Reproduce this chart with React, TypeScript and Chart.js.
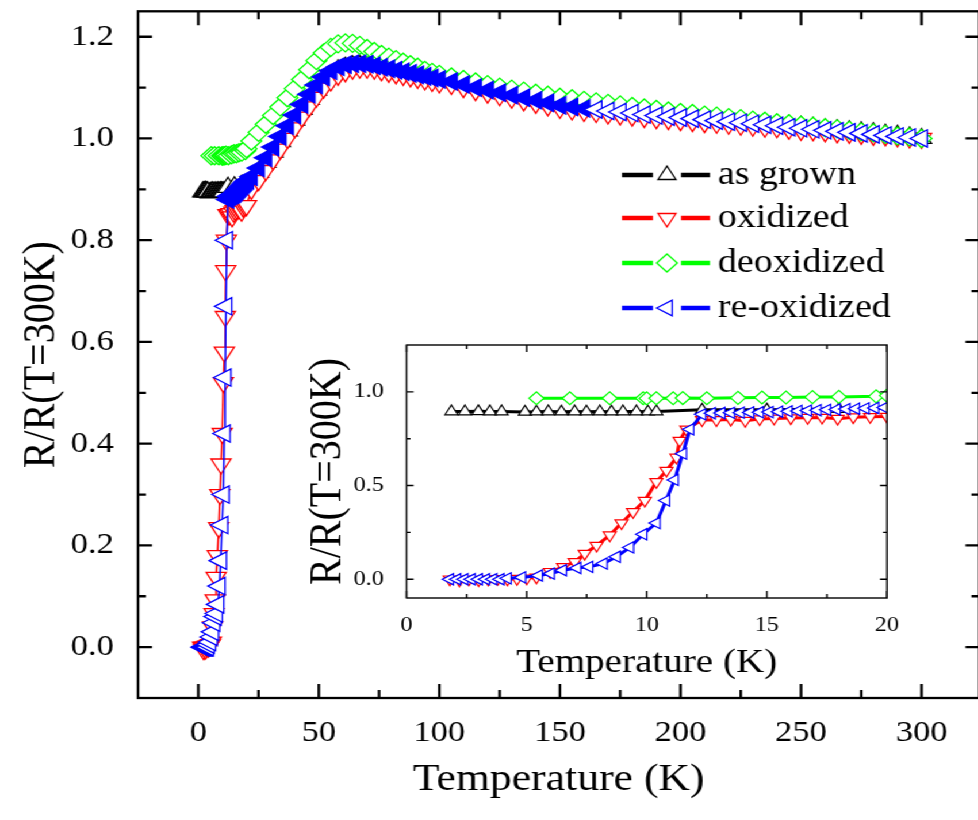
import React, { useEffect, useRef } from "react";
import { Chart, registerables } from "chart.js";
import { drawPoint } from "chart.js/helpers";

Chart.register(...registerables);

// ---------------- data ----------------
const seriesLabels = ["as grown", "oxidized", "deoxidized", "re-oxidized"];
const seriesColors = ["#000000", "#ff0000", "#00ff00", "#0000ff"];

// shared temperature grid of the main curve (K)
const gridT = [
  22, 25, 28, 31, 34, 37, 40, 43, 46, 49, 52, 55, 58, 61, 64, 67, 70, 73, 76, 79, 82, 85, 88, 91, 94, 97, 100,
  105, 110, 115, 120, 125, 130, 135, 140, 145, 150, 155, 160, 165, 170, 175, 180, 185, 190, 195, 200,
  205, 210, 215, 220, 225, 230, 235, 240, 245, 250, 255, 260, 265, 270, 275, 280, 285, 290, 295, 300,
];

// as grown
const asGrownLowT = [1.87, 2.43, 2.99, 3.47, 3.96, 4.93, 5.41, 5.9, 6.45, 7.0, 7.49, 8.05, 8.53, 9.01, 9.57, 10.05, 10.4, 12.3, 15.0, 18.0];
const asGrownLowR = [0.895, 0.895, 0.896, 0.895, 0.895, 0.893, 0.894, 0.895, 0.894, 0.895, 0.894, 0.895, 0.894, 0.895, 0.895, 0.894, 0.895, 0.904, 0.905, 0.908];
const asGrownMainR = [
  0.918, 0.934, 0.953, 0.973, 0.994, 1.015, 1.036, 1.057, 1.077, 1.095, 1.112, 1.125, 1.135, 1.14, 1.143, 1.144, 1.144, 1.142, 1.14, 1.138, 1.135, 1.132, 1.129, 1.126, 1.123, 1.12, 1.117,
  1.112, 1.107, 1.102, 1.097, 1.093, 1.089, 1.085, 1.081, 1.077, 1.073, 1.07, 1.067, 1.064, 1.061, 1.058, 1.056, 1.053, 1.05, 1.048, 1.046,
  1.043, 1.041, 1.039, 1.037, 1.034, 1.032, 1.03, 1.028, 1.026, 1.024, 1.022, 1.019, 1.017, 1.015, 1.013, 1.011, 1.008, 1.006, 1.003, 1.0,
];

// oxidized
const oxidizedLowT = [1.8, 2.2, 2.6, 3.0, 3.4, 3.8, 4.2, 4.6, 5.0, 5.41, 5.97, 6.52, 7.0, 7.42, 7.91, 8.46, 8.95, 9.43, 9.92, 10.4, 10.82, 11.24, 11.37, 11.65, 12.3, 12.9, 13.5, 14.1, 14.7, 15.3, 16.0, 16.7, 17.3, 17.95, 18.6, 19.3, 20.0];
const oxidizedLowR = [0.0, -0.005, 0.0, -0.004, 0.0, 0.002, 0.0, 0.003, 0.005, 0.01, 0.04, 0.066, 0.093, 0.137, 0.18, 0.235, 0.3, 0.36, 0.42, 0.52, 0.58, 0.65, 0.74, 0.8, 0.85, 0.85, 0.852, 0.846, 0.855, 0.858, 0.86, 0.862, 0.863, 0.857, 0.865, 0.867, 0.868];
const oxidizedMainR = [
  0.9, 0.917, 0.937, 0.958, 0.979, 1.0, 1.021, 1.042, 1.062, 1.081, 1.099, 1.113, 1.124, 1.131, 1.136, 1.138, 1.138, 1.136, 1.133, 1.13, 1.127, 1.124, 1.121, 1.118, 1.115, 1.112, 1.109,
  1.106, 1.1, 1.094, 1.089, 1.084, 1.079, 1.074, 1.069, 1.064, 1.059, 1.056, 1.053, 1.051, 1.048, 1.046, 1.044, 1.041, 1.039, 1.037, 1.035,
  1.033, 1.031, 1.03, 1.028, 1.026, 1.024, 1.022, 1.021, 1.018, 1.016, 1.015, 1.013, 1.011, 1.01, 1.008, 1.006, 1.005, 1.003, 1.001, 1.0,
];

// deoxidized
const deoxidizedLowT = [5.41, 6.8, 8.46, 9.85, 10.0, 10.4, 11.1, 11.5, 12.5, 13.8, 14.8, 15.8, 16.9, 18.0, 19.55, 20.0];
const deoxidizedLowR = [0.966, 0.966, 0.966, 0.966, 0.965, 0.966, 0.966, 0.967, 0.966, 0.968, 0.97, 0.97, 0.972, 0.973, 0.976, 0.98];
const deoxidizedMainR = [
  0.995, 1.012, 1.028, 1.045, 1.062, 1.08, 1.098, 1.116, 1.135, 1.153, 1.168, 1.179, 1.186, 1.188, 1.187, 1.183, 1.177, 1.171, 1.165, 1.16, 1.155, 1.15, 1.145, 1.14, 1.134, 1.13, 1.126,
  1.121, 1.116, 1.111, 1.106, 1.101, 1.097, 1.093, 1.089, 1.085, 1.081, 1.078, 1.075, 1.072, 1.069, 1.066, 1.063, 1.06, 1.057, 1.054, 1.051,
  1.049, 1.046, 1.044, 1.041, 1.039, 1.036, 1.034, 1.031, 1.029, 1.026, 1.024, 1.021, 1.019, 1.016, 1.013, 1.011, 1.008, 1.005, 1.003, 1.0,
];

// re-oxidized
const reoxidizedLowT = [1.8, 2.1, 2.4, 2.7, 3.0, 3.3, 3.6, 3.9, 4.2, 4.8, 5.5, 6.0, 6.5, 7.1, 7.6, 8.2, 8.74, 9.3, 9.85, 10.4, 10.8, 11.16, 11.5, 11.8, 12.3, 12.7, 13.1, 13.5, 13.9, 14.3, 14.7, 15.1, 15.5, 15.9, 16.3, 16.7, 17.1, 17.5, 17.9, 18.3, 18.7, 19.1, 19.5, 19.9, 20.5];
const reoxidizedLowR = [0, 0, 0, 0, 0, 0, 0, 0, 0.005, 0.01, 0.02, 0.03, 0.048, 0.06, 0.066, 0.084, 0.12, 0.17, 0.24, 0.3, 0.42, 0.53, 0.67, 0.8, 0.88, 0.886, 0.887, 0.888, 0.889, 0.89, 0.891, 0.892, 0.894, 0.896, 0.898, 0.9, 0.902, 0.904, 0.906, 0.908, 0.91, 0.912, 0.914, 0.916, 0.918];
const reoxidizedMainR = [
  0.925, 0.942, 0.962, 0.983, 1.004, 1.025, 1.046, 1.067, 1.087, 1.105, 1.121, 1.133, 1.141, 1.145, 1.147, 1.147, 1.146, 1.143, 1.14, 1.137, 1.134, 1.131, 1.128, 1.125, 1.122, 1.119, 1.116,
  1.112, 1.106, 1.1, 1.095, 1.09, 1.085, 1.08, 1.075, 1.07, 1.065, 1.062, 1.059, 1.057, 1.054, 1.052, 1.05, 1.047, 1.045, 1.043, 1.041,
  1.039, 1.037, 1.035, 1.033, 1.031, 1.029, 1.027, 1.025, 1.022, 1.02, 1.018, 1.016, 1.014, 1.012, 1.01, 1.008, 1.006, 1.004, 1.002, 1.0,
];

// tick values
const mainXTicks = [0, 50, 100, 150, 200, 250, 300];
const mainXMinor = [25, 75, 125, 175, 225, 275];
const mainYTicks = [0, 0.2, 0.4, 0.6, 0.8, 1.0, 1.2];
const mainYMinor = [0.1, 0.3, 0.5, 0.7, 0.9, 1.1];
const insetXTicks = [0, 5, 10, 15, 20];
const insetXMinor = [2.5, 7.5, 12.5, 17.5];
const insetYTicks = [0, 0.5, 1.0];
const insetYMinor = [0.25, 0.75];

const xTitle = "Temperature (K)";
const yTitle = "R/R(T=300K)";

// ---------------- styling / layout ----------------
const S = 1.15; // horizontal stretch of the whole figure
const FONT = '"Liberation Serif", "Times New Roman", Times, "DejaVu Serif", serif';
const MAIN_W = 863;
const MAIN_H = 820;
const INSET_LEFT = 261;
const INSET_TOP = 330;
const INSET_W = 522;
const INSET_H = 360;

Chart.defaults.font.family = FONT;

const seriesTable = [
  { t: [...asGrownLowT, ...gridT], r: [...asGrownLowR, ...asGrownMainR], style: "triangle", rot: 0, order: 3 },
  { t: [...oxidizedLowT, ...gridT], r: [...oxidizedLowR, ...oxidizedMainR], style: "triangle", rot: 180, order: 2 },
  { t: [...deoxidizedLowT, ...gridT], r: [...deoxidizedLowR, ...deoxidizedMainR], style: "rectRot", rot: 0, order: 1 },
  { t: [...reoxidizedLowT, ...gridT], r: [...reoxidizedLowR, ...reoxidizedMainR], style: "triangle", rot: 270, order: 0 },
];

function makeDatasets(inset: boolean) {
  return seriesTable.map((s, i) => ({
    label: seriesLabels[i],
    data: s.t.map((x, k) => ({ x, y: s.r[k] })),
    showLine: true,
    borderColor: seriesColors[i],
    backgroundColor: seriesColors[i],
    borderWidth: inset ? 3 : 1.5,
    pointStyle: s.style,
    pointRotation: s.rot,
    pointRadius: inset ? 6.5 : s.style === "rectRot" ? 9 : 10,
    pointBorderWidth: inset ? 1.2 : 1.3,
    pointBorderColor: seriesColors[i],
    // in the main panel the densely sampled re-oxidized band below ~165 K reads as solid blue
    pointBackgroundColor:
      !inset && i === 3
        ? (c: any) => (c.raw && c.raw.x > 12 && c.raw.x < 165 ? seriesColors[i] : "#ffffff")
        : "#ffffff",
    order: s.order,
    tension: 0,
  }));
}

const framePlugin = {
  id: "frameTicks",
  afterDraw(chart: any, _args: any, o: any) {
    const { ctx, chartArea: a, scales } = chart;
    const xs = scales.x;
    const ys = scales.y;
    ctx.save();
    ctx.strokeStyle = "#000";
    ctx.lineWidth = o.width;
    ctx.lineCap = "butt";
    ctx.strokeRect(a.left, a.top, a.right - a.left, a.bottom - a.top);
    ctx.beginPath();
    const vt = (v: number, len: number) => {
      const p = xs.getPixelForValue(v);
      ctx.moveTo(p, a.bottom);
      ctx.lineTo(p, a.bottom - len);
      ctx.moveTo(p, a.top);
      ctx.lineTo(p, a.top + len);
    };
    const ht = (v: number, len: number) => {
      const p = ys.getPixelForValue(v);
      const l = len / S;
      ctx.moveTo(a.left, p);
      ctx.lineTo(a.left + l, p);
      ctx.moveTo(a.right, p);
      ctx.lineTo(a.right - l, p);
    };
    o.xMajor.forEach((v: number) => vt(v, o.major));
    o.xMinor.forEach((v: number) => vt(v, o.minor));
    o.yMajor.forEach((v: number) => ht(v, o.major));
    o.yMinor.forEach((v: number) => ht(v, o.minor));
    ctx.stroke();
    ctx.restore();
  },
};

const legendPlugin = {
  id: "seriesLegend",
  afterDraw(chart: any, _args: any, o: any) {
    if (!o || !o.show) return;
    const ctx = chart.ctx;
    ctx.save();
    seriesLabels.forEach((label, i) => {
      const y = o.rows[i];
      const s = seriesTable[i];
      ctx.strokeStyle = seriesColors[i];
      ctx.lineWidth = o.lineWidth;
      ctx.beginPath();
      ctx.moveTo(o.x0, y);
      ctx.lineTo(o.x1, y);
      ctx.moveTo(o.x2, y);
      ctx.lineTo(o.x3, y);
      ctx.stroke();
      ctx.fillStyle = "#ffffff";
      ctx.lineWidth = 1.3;
      drawPoint(ctx, { pointStyle: s.style, rotation: s.rot, radius: o.radius, borderWidth: 1.3 } as any, o.xm, y);
      ctx.fillStyle = "#000";
      ctx.font = `${o.fontSize}px ${FONT}`;
      ctx.textBaseline = "middle";
      ctx.textAlign = "left";
      ctx.fillText(label, o.tx, y);
    });
    ctx.restore();
  },
};

function zeroPad(s: any) {
  s.paddingLeft = 0;
  s.paddingRight = 0;
  s.paddingTop = 0;
  s.paddingBottom = 0;
}

function mainConfig(): any {
  return {
    type: "scatter",
    data: { datasets: makeDatasets(false) },
    plugins: [framePlugin, legendPlugin],
    options: {
      animation: false,
      responsive: false,
      devicePixelRatio: 1,
      events: [],
      layout: { padding: { left: 0, top: 11, right: 3, bottom: 0 } },
      plugins: {
        legend: { display: false },
        tooltip: { enabled: false },
        frameTicks: { width: 2.3, major: 14, minor: 8, xMajor: mainXTicks, xMinor: mainXMinor, yMajor: mainYTicks, yMinor: mainYMinor },
        seriesLegend: {
          show: true,
          rows: [175, 218, 263, 308],
          x0: 622 / S, x1: 653 / S, xm: 667 / S, x2: 681 / S, x3: 710 / S, tx: 718 / S,
          lineWidth: 4.5, radius: 9, fontSize: 33,
        },
      },
      scales: {
        x: {
          type: "linear",
          min: -25,
          max: 324,
          grid: { display: false },
          border: { display: false },
          afterBuildTicks: (s: any) => { s.ticks = mainXTicks.map((v) => ({ value: v })); },
          afterFit: (s: any) => { s.height = 122; zeroPad(s); },
          ticks: { font: { family: FONT, size: 30 }, color: "#000", padding: 9, maxRotation: 0, autoSkip: false, callback: (v: any) => String(v) },
          title: { display: true, text: xTitle, font: { family: FONT, size: 38 }, color: "#000", padding: { top: 0, bottom: 17 } },
        },
        y: {
          type: "linear",
          min: -0.1,
          max: 1.25,
          grid: { display: false },
          border: { display: false },
          afterBuildTicks: (s: any) => { s.ticks = mainYTicks.map((v) => ({ value: v })); },
          afterFit: (s: any) => { s.width = 120; zeroPad(s); },
          ticks: { font: { family: FONT, size: 30 }, color: "#000", padding: 13, autoSkip: false, callback: (v: any) => Number(v).toFixed(1) },
          title: { display: true, text: yTitle, font: { family: FONT, size: 40 }, color: "#000", padding: { top: 12.5, bottom: 0 } },
        },
      },
    },
  };
}

function insetConfig(): any {
  return {
    type: "scatter",
    data: { datasets: makeDatasets(true) },
    plugins: [framePlugin],
    options: {
      animation: false,
      responsive: false,
      devicePixelRatio: 1,
      events: [],
      layout: { padding: { left: 0, top: 15, right: 11.7, bottom: 0 } },
      plugins: {
        legend: { display: false },
        tooltip: { enabled: false },
        frameTicks: { width: 1.4, major: 7, minor: 4, xMajor: insetXTicks, xMinor: insetXMinor, yMajor: insetYTicks, yMinor: insetYMinor },
      },
      scales: {
        x: {
          type: "linear",
          min: 0,
          max: 20,
          grid: { display: false },
          border: { display: false },
          afterBuildTicks: (s: any) => { s.ticks = insetXTicks.map((v) => ({ value: v })); },
          afterFit: (s: any) => { s.height = 92; zeroPad(s); },
          ticks: { font: { family: FONT, size: 21 }, color: "#000", padding: 6.5, maxRotation: 0, autoSkip: false, callback: (v: any) => String(v) },
          title: { display: true, text: xTitle, font: { family: FONT, size: 34 }, color: "#000", padding: { top: 0, bottom: 6.5 } },
        },
        y: {
          type: "linear",
          min: -0.1,
          max: 1.25,
          grid: { display: false },
          border: { display: false },
          afterBuildTicks: (s: any) => { s.ticks = insetYTicks.map((v) => ({ value: v })); },
          afterFit: (s: any) => { s.width = 92.5; zeroPad(s); },
          ticks: { font: { family: FONT, size: 21 }, color: "#000", padding: 11.8, autoSkip: false, callback: (v: any) => Number(v).toFixed(1) },
          title: { display: true, text: yTitle, font: { family: FONT, size: 40 }, color: "#000", padding: { top: 0, bottom: 0 } },
        },
      },
    },
  };
}

export default function App() {
  const mainRef = useRef<HTMLCanvasElement>(null);
  const insetRef = useRef<HTMLCanvasElement>(null);

  useEffect(() => {
    document.body.style.margin = "0";
    const main = new Chart(mainRef.current as HTMLCanvasElement, mainConfig());
    const inset = new Chart(insetRef.current as HTMLCanvasElement, insetConfig());
    let alive = true;
    const fonts: any = (document as any).fonts;
    if (fonts && fonts.load) {
      Promise.all([
        fonts.load('30px "Liberation Serif"'),
        fonts.load('21px "Liberation Serif"'),
        fonts.load('40px "Liberation Serif"'),
      ])
        .catch(() => null)
        .then(() => {
          if (!alive) return;
          main.update();
          inset.update();
        });
    }
    return () => {
      alive = false;
      main.destroy();
      inset.destroy();
    };
  }, []);

  return (
    <div style={{ position: "relative", width: 978, height: 820, overflow: "hidden", background: "#ffffff" }}>
      <div
        style={{
          position: "absolute",
          left: 0,
          top: 0,
          width: MAIN_W,
          height: MAIN_H,
          transform: `scaleX(${S})`,
          transformOrigin: "0 0",
        }}
      >
        <canvas ref={mainRef} width={MAIN_W} height={MAIN_H} style={{ position: "absolute", left: 0, top: 0 }} />
        <canvas
          ref={insetRef}
          width={INSET_W}
          height={INSET_H}
          style={{ position: "absolute", left: INSET_LEFT, top: INSET_TOP }}
        />
      </div>
    </div>
  );
}
